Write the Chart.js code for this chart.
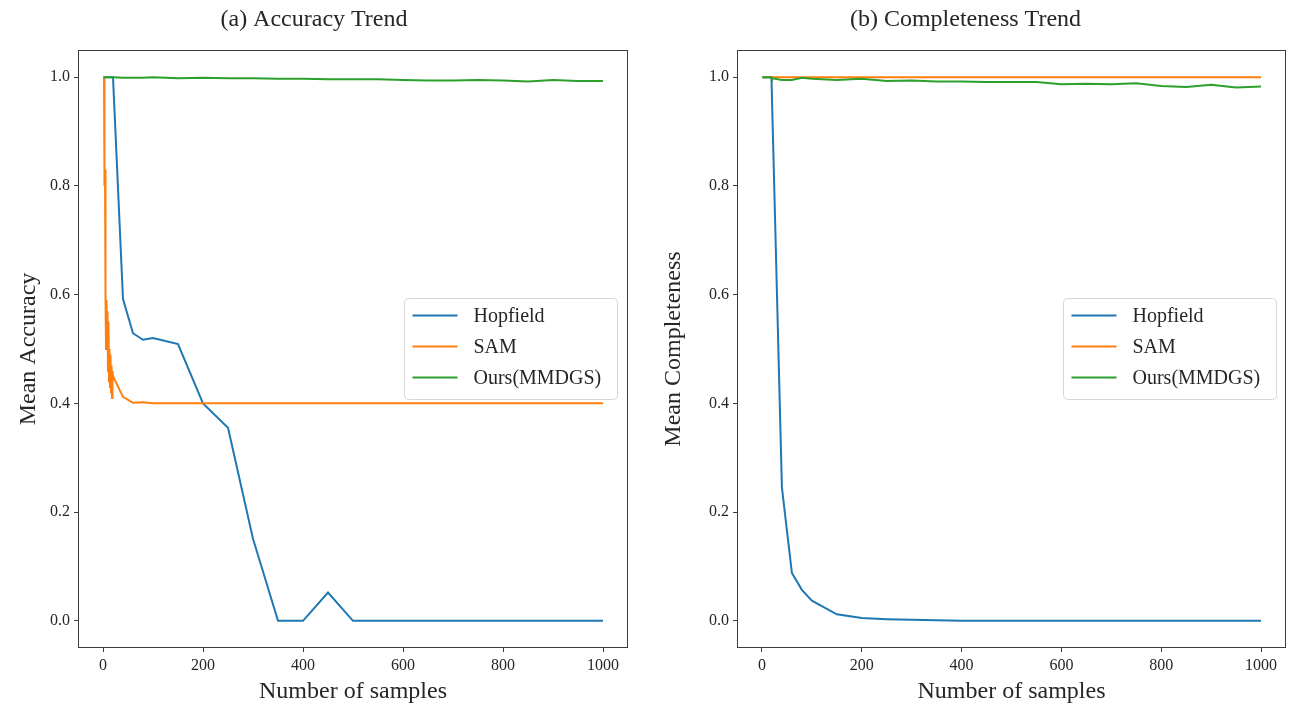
<!DOCTYPE html>
<html>
<head>
<meta charset="utf-8">
<title>Accuracy and Completeness Trends</title>
<script src="https://cdn.jsdelivr.net/npm/chart.js@4.4.1/dist/chart.umd.min.js"></script>
<style>
  html, body { margin: 0; padding: 0; background: #ffffff; }
  #wrap { position: relative; width: 1291px; height: 709px; overflow: hidden; }
  .panel { position: absolute; top: 0; height: 709px; }
</style>
</head>
<body>
<div id="wrap">
  <div class="panel" style="left:0;width:645px"><canvas id="acc" width="645" height="709"></canvas></div>
  <div class="panel" style="left:645px;width:646px"><canvas id="comp" width="646" height="709"></canvas></div>
</div>
<script>
// Number of stored samples at which each model was evaluated
const samples = [1, 2, 3, 4, 5, 6, 7, 8, 9, 10, 11, 12, 13, 14, 15, 16, 17, 18, 19, 20,
  40, 60, 80, 100, 150, 200, 250, 300, 350, 400, 450, 500, 550, 600, 650, 700, 750, 800, 850, 900, 950, 1000];

const seriesNames = ['Hopfield', 'SAM', 'Ours(MMDGS)'];
const seriesColors = ['#1f77b4', '#ff7f0e', '#2ca02c'];

// Mean accuracy
const hopfieldAcc = [1, 1, 1, 1, 1, 1, 1, 1, 1, 1, 1, 1, 1, 1, 1, 1, 1, 1, 1, 1,
  0.592, 0.529, 0.517, 0.520, 0.509, 0.400, 0.355, 0.151, 0, 0, 0.052, 0, 0, 0, 0, 0, 0, 0, 0, 0, 0, 0];
const samAcc = [1.0, 1.0, 0.80, 0.83, 0.60, 0.50, 0.59, 0.50, 0.57, 0.46, 0.55, 0.44, 0.50, 0.43, 0.49, 0.42, 0.47, 0.41, 0.46, 0.45,
  0.412, 0.401, 0.402, 0.400, 0.400, 0.400, 0.400, 0.400, 0.400, 0.400, 0.400, 0.400, 0.400, 0.400, 0.400, 0.400, 0.400, 0.400, 0.400, 0.400, 0.400, 0.400];
const oursAcc = [1, 1, 1, 1, 1, 1, 1, 1, 1, 1, 1, 1, 1, 1, 1, 1, 1, 1, 1, 1,
  0.999, 0.999, 0.999, 1.000, 0.998, 0.999, 0.998, 0.998, 0.997, 0.997, 0.996, 0.996, 0.996, 0.995, 0.994, 0.994, 0.995, 0.994, 0.992, 0.995, 0.993, 0.993];

// Mean completeness
const hopfieldComp = [1, 1, 1, 1, 1, 1, 1, 1, 1, 1, 1, 1, 1, 1, 1, 1, 1, 1, 1, 1,
  0.245, 0.088, 0.057, 0.037, 0.012, 0.005, 0.003, 0.002, 0.001, 0, 0, 0, 0, 0, 0, 0, 0, 0, 0, 0, 0, 0];
const samComp = [1, 1, 1, 1, 1, 1, 1, 1, 1, 1, 1, 1, 1, 1, 1, 1, 1, 1, 1, 1,
  1, 1, 1, 1, 1, 1, 1, 1, 1, 1, 1, 1, 1, 1, 1, 1, 1, 1, 1, 1, 1, 1];
const oursComp = [1, 1, 1, 1, 1, 1, 1, 1, 1, 1, 1, 1, 1, 1, 1, 1, 1, 1, 1, 0.998,
  0.995, 0.995, 0.999, 0.997, 0.995, 0.997, 0.993, 0.994, 0.992, 0.992, 0.991, 0.991, 0.991, 0.987, 0.988, 0.987, 0.989, 0.984, 0.982, 0.986, 0.981, 0.983];

// Axis ticks
const xTicks = [0, 200, 400, 600, 800, 1000];
const yTicks = [0.0, 0.2, 0.4, 0.6, 0.8, 1.0];

const SERIF = "'Liberation Serif', 'Times New Roman', Times, serif";
const INK = '#262626';
const FRAME = '#3c3c3c';

Chart.defaults.font.family = SERIF;
Chart.defaults.color = INK;

// Full box around the plotting area
const framePlugin = {
  id: 'frame',
  afterDatasetsDraw(chart) {
    const { ctx, chartArea: a } = chart;
    ctx.save();
    ctx.strokeStyle = FRAME;
    ctx.lineWidth = 1;
    ctx.strokeRect(Math.round(a.left) + 0.5, Math.round(a.top) + 0.5,
      Math.round(a.right - a.left) - 1, Math.round(a.bottom - a.top) - 1);
    ctx.restore();
  }
};

// Legend box placed inside the plotting area, right side, middle height
const insideLegend = {
  id: 'insideLegend',
  afterDraw(chart) {
    const { ctx, chartArea: a } = chart;
    const bx = a.left + 326.5, by = 298.5, bw = 213, bh = 101, r = 4;
    ctx.save();
    ctx.beginPath();
    ctx.moveTo(bx + r, by);
    ctx.arcTo(bx + bw, by, bx + bw, by + bh, r);
    ctx.arcTo(bx + bw, by + bh, bx, by + bh, r);
    ctx.arcTo(bx, by + bh, bx, by, r);
    ctx.arcTo(bx, by, bx + bw, by, r);
    ctx.closePath();
    ctx.fillStyle = 'rgba(255,255,255,0.8)';
    ctx.fill();
    ctx.strokeStyle = '#d6d6d6';
    ctx.lineWidth = 1;
    ctx.stroke();
    ctx.font = '20px ' + SERIF;
    ctx.textBaseline = 'middle';
    ctx.textAlign = 'left';
    seriesNames.forEach((name, i) => {
      const y = by + 17 + i * 31;
      ctx.strokeStyle = seriesColors[i];
      ctx.lineWidth = 2;
      ctx.beginPath();
      ctx.moveTo(bx + 8, y);
      ctx.lineTo(bx + 53, y);
      ctx.stroke();
      ctx.fillStyle = INK;
      ctx.fillText(name, bx + 69, y + 1);
    });
    ctx.restore();
  }
};

function toPoints(values) {
  return samples.map((x, i) => ({ x: x, y: values[i] }));
}

function makeChart(id, title, yTitle, valueSets, yAxisWidth, padRight) {
  // later series sit on top of earlier ones
  const datasets = valueSets.map((vals, i) => ({
    label: seriesNames[i],
    data: toPoints(vals),
    borderColor: seriesColors[i],
    backgroundColor: seriesColors[i],
    borderWidth: 2,
    pointRadius: 0,
    tension: 0,
    order: valueSets.length - i
  }));
  return new Chart(document.getElementById(id), {
    type: 'line',
    data: { datasets },
    options: {
      responsive: false,
      animation: false,
      events: [],
      layout: { padding: { left: 0, right: padRight, top: 0, bottom: 0 } },
      plugins: {
        legend: { display: false },
        tooltip: { enabled: false },
        title: {
          display: true,
          text: title,
          color: INK,
          font: { size: 24, weight: 'normal', family: SERIF },
          padding: { top: 5.6, bottom: 15.6 }
        }
      },
      scales: {
        x: {
          type: 'linear',
          min: -50,
          max: 1050,
          border: { display: false },
          grid: { drawOnChartArea: false, drawTicks: true, tickLength: 4, color: FRAME },
          ticks: { padding: 4, font: { size: 16 }, color: INK, callback: v => String(v) },
          title: {
            display: true,
            text: 'Number of samples',
            color: INK,
            font: { size: 24, family: SERIF },
            padding: { top: 0, bottom: 2.6 }
          },
          afterBuildTicks(scale) { scale.ticks = xTicks.map(v => ({ value: v })); },
          afterFit(scale) { scale.height = 61; }
        },
        y: {
          type: 'linear',
          min: -0.05,
          max: 1.05,
          border: { display: false },
          grid: { drawOnChartArea: false, drawTicks: true, tickLength: 4, color: FRAME },
          ticks: { padding: 4, font: { size: 16 }, color: INK, callback: v => Number(v).toFixed(1) },
          title: {
            display: true,
            text: yTitle,
            color: INK,
            font: { size: 24, family: SERIF },
            padding: { top: 14, bottom: 0 }
          },
          afterBuildTicks(scale) { scale.ticks = yTicks.map(v => ({ value: v })); },
          afterFit(scale) { scale.width = yAxisWidth; }
        }
      }
    },
    plugins: [framePlugin, insideLegend]
  });
}

makeChart('acc', '(a) Accuracy Trend', 'Mean Accuracy', [hopfieldAcc, samAcc, oursAcc], 78, 17);
makeChart('comp', '(b) Completeness Trend', 'Mean Completeness', [hopfieldComp, samComp, oursComp], 92, 5);
</script>
</body>
</html>
